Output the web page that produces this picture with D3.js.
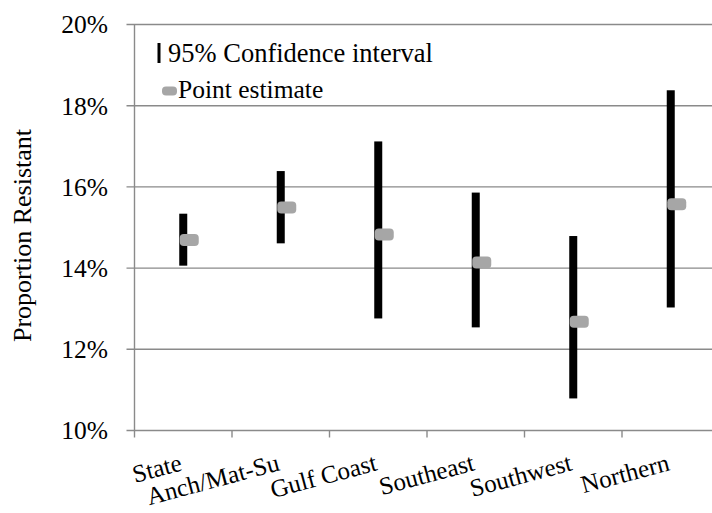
<!DOCTYPE html>
<html>
<head>
<meta charset="utf-8">
<script src="https://cdn.jsdelivr.net/npm/d3@7"></script>
<style>
  body { margin: 0; background: #fff; }
  text { font-family: 'Liberation Serif', 'Times New Roman', Times, 'DejaVu Serif', serif; }
</style>
</head>
<body>
<div id="chart"></div>
<script>
// regions and their estimates (proportion resistant)
var regions = ["State", "Anch/Mat-Su", "Gulf Coast", "Southeast", "Southwest", "Northern"];
var pointEst = [0.1469, 0.1549, 0.1483, 0.1414, 0.1268, 0.1557];
var ciLow = [0.1406, 0.1461, 0.1276, 0.1254, 0.1079, 0.1303];
var ciHigh = [0.1534, 0.1639, 0.1712, 0.1586, 0.1479, 0.1838];
var yTicks = [0.10, 0.12, 0.14, 0.16, 0.18, 0.20];

var width = 712, height = 513;
var x0 = 134.5, bandW = 97.5;
var serif = "'Liberation Serif', 'Times New Roman', Times, serif";

var svg = d3.select('#chart').append('svg')
    .attr('width', width)
    .attr('height', height)
    .attr('font-family', serif);

var x = d3.scaleBand()
    .domain(regions)
    .range([x0, x0 + bandW * regions.length])
    .paddingInner(0).paddingOuter(0);

var y = d3.scaleLinear()
    .domain([0.10, 0.20])
    .range([430.5, 24.5]);

var grey = '#8a8a8a';

// gridlines
svg.append('g').selectAll('line')
    .data(yTicks)
    .enter().append('line')
    .attr('x1', x0 - 8)
    .attr('x2', width)
    .attr('y1', function(d) { return y(d); })
    .attr('y2', function(d) { return y(d); })
    .attr('stroke', grey)
    .attr('stroke-width', 1.4);

// y axis line
svg.append('line')
    .attr('x1', x0).attr('x2', x0)
    .attr('y1', y(0.20)).attr('y2', y(0.10))
    .attr('stroke', grey).attr('stroke-width', 1.4);

// y tick labels
svg.append('g').selectAll('text')
    .data(yTicks)
    .enter().append('text')
    .attr('x', 108)
    .attr('y', function(d) { return y(d); })
    .attr('dy', '0.35em')
    .attr('text-anchor', 'end')
    .attr('font-size', '25.5px')
    .text(d3.format('.0%'));

// x ticks (band boundaries)
var tickPos = regions.map(function(r) { return x(r); });
svg.append('g').selectAll('line')
    .data(tickPos)
    .enter().append('line')
    .attr('x1', function(d) { return d; })
    .attr('x2', function(d) { return d; })
    .attr('y1', y(0.10))
    .attr('y2', y(0.10) + 7)
    .attr('stroke', grey).attr('stroke-width', 1.4);

// x labels, rotated
svg.append('g').selectAll('text')
    .data(regions)
    .enter().append('text')
    .attr('transform', function(d) {
      return 'translate(' + (x(d) + bandW / 2) + ',470) rotate(-15)';
    })
    .attr('text-anchor', 'end')
    .attr('font-size', '25px')
    .text(function(d) { return d; });

// y axis title
svg.append('text')
    .attr('transform', 'translate(31,235.5) rotate(-90)')
    .attr('text-anchor', 'middle')
    .attr('font-size', '26px')
    .text('Proportion Resistant');

// confidence interval bars
svg.append('g').selectAll('rect')
    .data(regions)
    .enter().append('rect')
    .attr('x', function(d) { return x(d) + bandW / 2 - 4; })
    .attr('width', 8)
    .attr('y', function(d, i) { return y(ciHigh[i]); })
    .attr('height', function(d, i) { return y(ciLow[i]) - y(ciHigh[i]); })
    .attr('fill', '#000');

// point estimates
svg.append('g').selectAll('rect')
    .data(regions)
    .enter().append('rect')
    .attr('x', function(d) { return x(d) + bandW / 2 - 3.5; })
    .attr('width', 19)
    .attr('y', function(d, i) { return y(pointEst[i]) - 6; })
    .attr('height', 12)
    .attr('rx', 4)
    .attr('fill', '#a6a6a6');

// legend
var lg = svg.append('g');
lg.append('rect')
    .attr('x', 157.5).attr('y', 43).attr('width', 3).attr('height', 20)
    .attr('fill', '#000');
lg.append('text')
    .attr('x', 168).attr('y', 62)
    .attr('font-size', '26.5px')
    .text('95% Confidence interval');
lg.append('rect')
    .attr('x', 162).attr('y', 86.5).attr('width', 15).attr('height', 9)
    .attr('rx', 4)
    .attr('fill', '#a6a6a6');
lg.append('text')
    .attr('x', 178).attr('y', 98)
    .attr('font-size', '25.5px')
    .text('Point estimate');
</script>
</body>
</html>
